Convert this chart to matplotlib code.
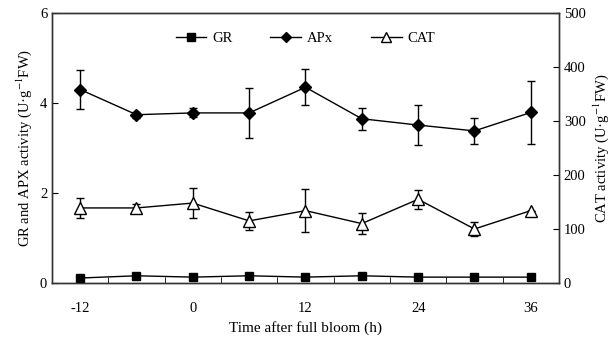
import matplotlib
matplotlib.use("Agg")
import matplotlib.pyplot as plt
import numpy as np
from matplotlib.ticker import FixedLocator
from matplotlib.lines import Line2D

plt.rcParams['font.family'] = ['Liberation Serif', 'DejaVu Serif']
plt.rcParams['mathtext.fontset'] = 'stix'
plt.rcParams['font.size'] = 10.5
plt.rcParams['axes.unicode_minus'] = False

hours = [-12, -6, 0, 6, 12, 18, 24, 30, 36]

gr = [0.11, 0.16, 0.13, 0.16, 0.13, 0.16, 0.13, 0.13, 0.13]
gr_err = [0.01, 0.01, 0.01, 0.01, 0.01, 0.01, 0.01, 0.01, 0.01]

apx = [4.30, 3.74, 3.78, 3.78, 4.35, 3.65, 3.51, 3.38, 3.79]
apx_err = [0.43, 0.07, 0.10, 0.56, 0.40, 0.24, 0.44, 0.28, 0.69]

cat = [139, 139, 148, 115, 134, 110, 155, 100, 134]
cat_err = [19, 8, 27, 17, 40, 20, 18, 13, 0]

xticks = [-12, 0, 12, 24, 36]
minor_ticks = [-9, -3, 3, 9, 15, 21, 27, 33]

fig = plt.figure(figsize=(6.16, 3.43), dpi=100)
ax = fig.add_axes([0.0844, 0.175, 0.823, 0.787])
ax2 = ax.twinx()

ekw = dict(color='black', lw=1, capsize=3, elinewidth=1, capthick=1)

ax.errorbar(hours, gr, yerr=gr_err, marker='s', ms=6, mfc='black',
            mec='black', zorder=3, **ekw)
ax.errorbar(hours, apx, yerr=apx_err, marker='D', ms=6.5, mfc='black',
            mec='black', zorder=3, **ekw)
ax2.errorbar(hours, cat, yerr=cat_err, marker='^', ms=9, mfc='white',
             mec='black', zorder=3, **ekw)

ax.set_xlim(-15, 39)
ax.set_ylim(0, 6)
ax2.set_ylim(0, 500)
ax.set_yticks([0, 2, 4, 6])
ax2.set_yticks([0, 100, 200, 300, 400, 500])

ax.set_xticks(xticks)
ax.xaxis.set_minor_locator(FixedLocator(minor_ticks))
ax.tick_params(axis='x', which='major', length=0, pad=14)
ax.tick_params(axis='x', which='minor', direction='in', length=4)
ax.tick_params(axis='y', direction='in', length=4)
ax2.tick_params(axis='y', direction='in', length=4)

for a in (ax, ax2):
    for s in a.spines.values():
        s.set_linewidth(1)
        s.set_color('#333333')

ax.set_xlabel('Time after full bloom (h)', fontsize=11)
ax.set_ylabel(r'GR and APX activity (U·g$^{-1}$FW)')
ax2.set_ylabel(r'CAT activity (U·g$^{-1}$FW)')

handles = [
    Line2D([], [], color='black', lw=1, marker='s', ms=6, mfc='black'),
    Line2D([], [], color='black', lw=1, marker='D', ms=5.5, mfc='black'),
    Line2D([], [], color='black', lw=1, marker='^', ms=7, mfc='white', mec='black'),
]
ax.legend(handles, ['GR', 'APx', 'CAT'], loc='upper center', ncol=3,
          frameon=False, bbox_to_anchor=(0.5, 0.98), handlelength=2.1,
          columnspacing=2.6, handletextpad=0.4)

fig.savefig('out.png', dpi=100)
